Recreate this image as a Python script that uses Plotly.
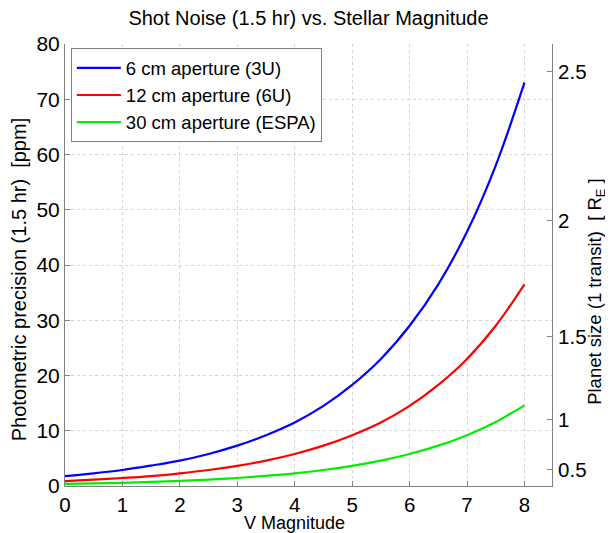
import plotly.graph_objects as go

v_mag = [0, 0.5, 1, 1.5, 2, 2.5, 3, 3.5, 4, 4.5, 5, 5.5, 6, 6.5, 7, 7.5, 8]
ppm_6cm = [1.8, 2.3, 2.9, 3.7, 4.6, 5.8, 7.3, 9.2, 11.5, 14.5, 18.3, 23.0, 29.0, 36.5, 46.0, 58.0, 73.0]
ppm_12cm = [0.9, 1.15, 1.45, 1.8, 2.3, 2.9, 3.65, 4.6, 5.8, 7.3, 9.2, 11.5, 14.5, 18.3, 23.0, 29.0, 36.5]
ppm_30cm = [0.37, 0.46, 0.58, 0.73, 0.92, 1.15, 1.45, 1.85, 2.3, 2.9, 3.65, 4.6, 5.8, 7.3, 9.2, 11.6, 14.6]

series_names = ["6 cm aperture (3U)", "12 cm aperture (6U)", "30 cm aperture (ESPA)"]
series_colors = ["#0000ff", "#ff0000", "#00ee00"]

planet_radii = [0.5, 1, 1.5, 2, 2.5]
ppm_per_re2 = 12.0  # conversion between planet size and ppm on the right axis
planet_tick_pos = [ppm_per_re2 * r * r for r in planet_radii]
planet_tick_text = ["0.5", "1", "1.5", "2", "2.5"]

FONT = "Liberation Sans, Arial, sans-serif"
AX = "#808080"
GRID = "#d4d4d4"

fig = go.Figure()
for name, ys, col in zip(series_names, [ppm_6cm, ppm_12cm, ppm_30cm], series_colors):
    fig.add_trace(go.Scatter(x=v_mag, y=ys, mode="lines", name=name,
                             line=dict(color=col, width=2.2, shape="spline")))

fig.add_trace(go.Scatter(x=[0], y=[0], yaxis="y2", mode="markers",
                         marker=dict(opacity=0), showlegend=False, hoverinfo="skip"))

fig.update_layout(
    width=605, height=525,
    margin=dict(l=57, r=61, t=36, b=47),
    paper_bgcolor="white", plot_bgcolor="white",
    font=dict(family=FONT, size=20, color="black"),
    title=dict(text="Shot Noise (1.5 hr) vs. Stellar Magnitude", x=0.5, xref="paper",
               y=0.981, yanchor="middle", font=dict(size=20)),
    xaxis=dict(range=[0, 8.48], tickvals=[0, 1, 2, 3, 4, 5, 6, 7, 8], ticks="inside",
               ticklen=5, tickcolor=AX, showline=True, linecolor=AX, linewidth=1,
               showgrid=True, gridcolor=GRID, griddash="dot", gridwidth=1,
               tickfont=dict(size=20.5), zeroline=False, automargin=False),
    yaxis=dict(range=[0, 80], dtick=10, ticks="inside", ticklen=5, tickcolor=AX,
               showline=True, linecolor=AX, linewidth=1,
               showgrid=True, gridcolor=GRID, griddash="dot", gridwidth=1,
               tickfont=dict(size=21), zeroline=False, automargin=False),
    yaxis2=dict(range=[0, 80], overlaying="y", side="right", tickvals=planet_tick_pos,
                ticktext=planet_tick_text, ticks="inside", ticklen=5, tickcolor=AX,
                showline=True, linecolor=AX, linewidth=1, showgrid=False, zeroline=False,
                tickfont=dict(size=20.5), automargin=False, ticklabelstandoff=1),
    annotations=[
        dict(text="Planet size (1 transit)  [ R<sub>E</sub> ]", xref="paper", yref="paper",
             x=1.089, y=0.44, textangle=-90, showarrow=False,
             font=dict(size=18.5), xanchor="center", yanchor="middle"),
        dict(text="Photometric precision (1.5 hr)  [ppm]", xref="paper", yref="paper",
             x=-0.094, y=0.466, textangle=-90, showarrow=False,
             font=dict(size=20), xanchor="center", yanchor="middle"),
        dict(text="V Magnitude", xref="paper", yref="paper",
             x=0.472, y=-0.084, showarrow=False,
             font=dict(size=18), xanchor="center", yanchor="middle"),
    ],
    legend=dict(x=0.012, y=0.99, xanchor="left", yanchor="top", bgcolor="white",
                bordercolor=AX, borderwidth=1, font=dict(size=18.5),
                tracegroupgap=0, itemwidth=44),
    showlegend=True,
)

fig.write_html("out.html")
